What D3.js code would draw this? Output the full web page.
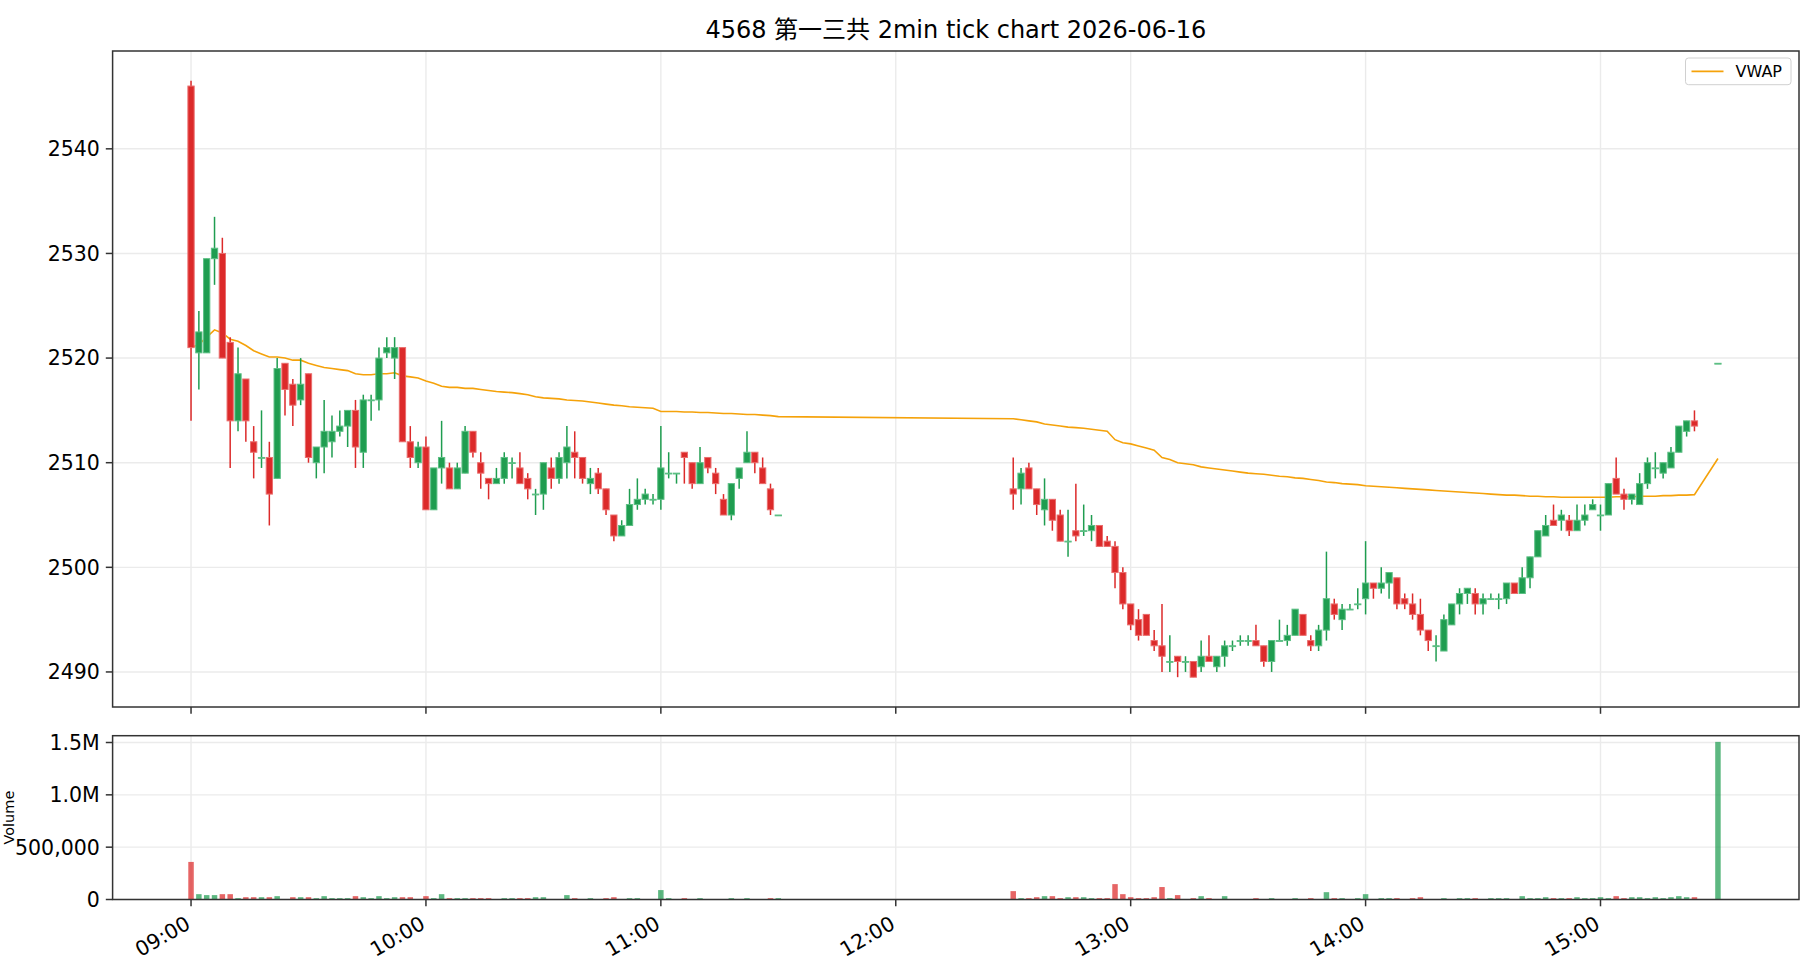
<!DOCTYPE html>
<html>
<head>
<meta charset="utf-8">
<script src="https://cdn.jsdelivr.net/npm/d3@7"></script>
<style>
body { margin: 0; background: #fff; }
text { font-family: "DejaVu Sans", "Noto Sans CJK JP", sans-serif; fill: #000; }
</style>
</head>
<body>
<svg id="chart" width="1820" height="980"></svg>
<script>
// 4568 Daiichi Sankyo, 2 minute bars
var tradeDate = '2026-06-16';

var times = [
	'09:00','09:02','09:04','09:06','09:08','09:10','09:12','09:14','09:16','09:18',
	'09:20','09:22','09:24','09:26','09:28','09:30','09:32','09:34','09:36','09:38',
	'09:40','09:42','09:44','09:46','09:48','09:50','09:52','09:54','09:56','09:58',
	'10:00','10:02','10:04','10:06','10:08','10:10','10:12','10:14','10:16','10:18',
	'10:20','10:22','10:24','10:26','10:28','10:30','10:32','10:34','10:36','10:38',
	'10:40','10:42','10:44','10:46','10:48','10:50','10:52','10:54','10:56','10:58',
	'11:00','11:02','11:04','11:06','11:08','11:10','11:12','11:14','11:16','11:18',
	'11:20','11:22','11:24','11:26','11:28','11:30',
	'12:30','12:32','12:34','12:36','12:38','12:40','12:42','12:44','12:46','12:48',
	'12:50','12:52','12:54','12:56','12:58','13:00','13:02','13:04','13:06','13:08',
	'13:10','13:12','13:14','13:16','13:18','13:20','13:22','13:24','13:26','13:28',
	'13:30','13:32','13:34','13:36','13:38','13:40','13:42','13:44','13:46','13:48',
	'13:50','13:52','13:54','13:56','13:58','14:00','14:02','14:04','14:06','14:08',
	'14:10','14:12','14:14','14:16','14:18','14:20','14:22','14:24','14:26','14:28',
	'14:30','14:32','14:34','14:36','14:38','14:40','14:42','14:44','14:46','14:48',
	'14:50','14:52','14:54','14:56','14:58','15:00','15:02','15:04','15:06','15:08',
	'15:10','15:12','15:14','15:16','15:18','15:20','15:22','15:24','15:30'
];

var opens = [
	2546,2520.5,2520.5,2529.5,2530,2521.5,2514,2518,2512,2510.5,
	2510.5,2508.5,2519.5,2517.5,2516,2518.5,2510,2511.5,2512,2513,
	2513.5,2515,2511,2516,2516,2520.5,2520,2521,2512,2510,
	2511.5,2505.5,2509.5,2509.5,2507.5,2509,2513,2510,2508.5,2508,
	2508.5,2510,2509.5,2508.5,2507,2507,2509.5,2508.5,2510,2511,
	2510.5,2508,2509,2507.5,2505,2503,2504,2506,2506.5,2506.5,
	2506.5,2509,2509,2511,2510,2508,2510.5,2509,2506.5,2505,
	2508.5,2510,2511,2509.5,2507.5,2505,
	2507.5,2507.5,2509.5,2507.5,2505.5,2506.5,2505,2502.5,2503.5,2503.5,
	2503.5,2504,2502.5,2502,2499.5,2496.5,2495,2495.5,2493,2492.5,
	2491,2491.5,2491,2491,2490.5,2491.5,2490.5,2491.5,2492.5,2493,
	2493,2493,2492.5,2491,2493,2493,2493.5,2495.5,2493,2492.5,
	2494,2496.5,2495,2496,2496.5,2497,2498.5,2498,2498.5,2499,
	2497,2496.5,2495.5,2494,2492.5,2492,2494.5,2496.5,2497.5,2497.5,
	2496.5,2497,2497,2497,2498.5,2497.5,2499,2501,2503,2504.5,
	2504.5,2504.5,2503.5,2504.5,2505.5,2505,2505,2508.5,2507,2506.5,
	2506,2508,2509.5,2509,2509.5,2511,2513,2514,2519.5
];

var highs = [
	2546.5,2524.5,2529.5,2533.5,2531.5,2522,2521,2518,2513.5,2515,
	2512,2520,2519.5,2518,2520,2518.5,2511.5,2516,2514.5,2515,
	2515,2516,2516.5,2516.5,2521,2522,2522,2521,2513.5,2512,
	2512.5,2509.5,2514,2510,2510,2513.5,2513,2511,2508.5,2509.5,
	2511,2510.5,2511,2509,2507.5,2510,2510.5,2511,2513.5,2513,
	2510.5,2509.5,2509.5,2507.5,2505,2504.5,2507.5,2508.5,2507.5,2507,
	2513.5,2511,2509,2511,2510,2511.5,2510.5,2509.5,2507,2508,
	2509.5,2513,2511,2510.5,2508,2505,
	2510.5,2509.5,2510,2507.5,2508.5,2506.5,2505.5,2505.5,2508,2506,
	2505,2504,2503,2502.5,2500,2496.5,2496,2495.5,2494,2496.5,
	2493.5,2491.5,2491.5,2491,2493,2493.5,2491.5,2493,2493,2493.5,
	2493.5,2494.5,2492.5,2493,2495,2494.5,2496,2495.5,2493.5,2494.5,
	2501.5,2497,2496.5,2496.5,2498,2502.5,2498.5,2500,2499.5,2499,
	2497.5,2497.5,2497,2494,2493.5,2495.5,2496.5,2498,2498,2498,
	2497.5,2497.5,2497.5,2498.5,2498.5,2500,2501,2503.5,2505,2506,
	2505.5,2505,2506,2506,2506.5,2506,2508,2510.5,2507.5,2507,
	2509,2510.5,2511,2510,2511.5,2513.5,2514,2515,2519.5
];

var lows = [
	2514,2517,2520.5,2527,2520,2509.5,2513,2512,2508.5,2509.5,
	2504,2508.5,2514.5,2513.5,2515.5,2510,2508.5,2509,2510.5,2512.5,
	2511.5,2509.5,2509.5,2514,2515,2520,2518,2512,2509.5,2509.5,
	2505.5,2505.5,2508,2507.5,2507.5,2509,2510.5,2507.5,2506.5,2508,
	2508,2508.5,2508,2506.5,2505,2505.5,2507.5,2508,2508.5,2508.5,
	2508,2507,2507,2505,2502.5,2503,2504,2505.5,2506,2506,
	2505.5,2508.5,2508,2508,2507.5,2508,2509,2507,2505,2504.5,
	2507.5,2510,2509,2508,2505,2505,
	2505.5,2506,2507.5,2505,2504,2503.5,2502.5,2501,2502.5,2503,
	2502.5,2502,2502,2498,2496,2494,2493,2493.5,2492,2490,
	2490,2489.5,2490,2489.5,2490,2491,2490,2490.5,2492,2492.5,
	2492.5,2492.5,2490.5,2490,2493,2492.5,2493.5,2493.5,2492,2492,
	2493,2495,2494,2496,2496,2495.5,2497,2497.5,2497,2496,
	2496,2495,2493.5,2492,2491,2492,2494.5,2495.5,2496.5,2495.5,
	2495.5,2497,2496,2496.5,2497.5,2497.5,2498,2501,2503,2504,
	2503.5,2503,2503.5,2504,2505.5,2503.5,2505,2507,2505.5,2506,
	2506,2507.5,2508.5,2508.5,2509.5,2511,2512.5,2513,2519.5
];

var closes = [
	2521,2522.5,2529.5,2530.5,2520,2514,2518.5,2514,2511,2510.5,
	2507,2519,2517,2515.5,2517.5,2510.5,2511.5,2513,2513,2513.5,
	2515,2511.5,2516,2516,2520,2521,2521,2512,2510.5,2511.5,
	2505.5,2509.5,2510.5,2507.5,2509.5,2513,2511,2509,2508,2508.5,
	2510.5,2510,2508,2507.5,2507,2510,2508.5,2510.5,2511.5,2510.5,
	2508.5,2508.5,2507.5,2505.5,2503,2504,2506,2506.5,2507,2506.5,
	2509.5,2509,2509,2510.5,2508,2510,2509.5,2508,2505,2508,
	2509.5,2511,2510,2508,2505.5,2505,
	2507,2509,2507.5,2506,2506.5,2504.5,2502.5,2502.5,2503,2503.5,
	2504,2502,2502,2499.5,2496.5,2494.5,2493.5,2493.5,2492.5,2491.5,
	2491,2491,2491,2489.5,2491.5,2491,2491.5,2492.5,2492.5,2493,
	2493,2492.5,2491,2493,2493,2493.5,2496,2493.5,2492.5,2494,
	2497,2495.5,2496,2496,2496.5,2498.5,2498,2498.5,2499.5,2496.5,
	2496.5,2495.5,2494,2493,2492.5,2495,2496.5,2497.5,2498,2496.5,
	2497,2497,2497,2498.5,2497.5,2499,2501,2503.5,2504,2504,
	2505,2503.5,2504.5,2505,2506,2505,2508,2507,2506.5,2507,
	2508,2510,2509.5,2510,2511,2513.5,2514,2513.5,2519.5
];

var volumes = [
	359000,51000,42000,42000,51000,51000,13000,22000,22000,22000,
	22000,32000,4000,22000,22000,22000,13000,32000,13000,13000,
	13000,32000,22000,13000,32000,13000,22000,22000,22000,4000,
	32000,13000,51000,13000,13000,13000,13000,13000,13000,4000,
	13000,13000,13000,13000,22000,22000,4000,4000,42000,13000,
	4000,13000,4000,13000,22000,4000,13000,13000,4000,4000,
	90000,13000,4000,13000,4000,13000,4000,4000,4000,13000,
	4000,13000,4000,4000,13000,13000,
	80000,13000,13000,22000,32000,32000,13000,22000,22000,22000,
	13000,13000,13000,147000,51000,22000,13000,13000,22000,119000,
	13000,42000,4000,13000,32000,13000,4000,32000,4000,4000,
	4000,13000,4000,13000,4000,4000,13000,4000,13000,4000,
	70000,13000,13000,4000,13000,51000,4000,13000,13000,13000,
	4000,13000,22000,4000,4000,13000,4000,13000,13000,13000,
	4000,13000,13000,13000,4000,32000,13000,13000,22000,13000,
	13000,13000,22000,13000,13000,22000,13000,32000,13000,22000,
	22000,13000,22000,13000,22000,32000,22000,22000,1506000
];

var vwap = [
	2521.0,2521.3,2522.0,2522.7,2522.4,2521.8,2521.6,2521.2,2520.7,2520.4,
	2520.1,2520.1,2520.0,2519.8,2519.8,2519.5,2519.3,2519.1,2519.0,2518.9,
	2518.8,2518.5,2518.4,2518.4,2518.5,2518.5,2518.6,2518.3,2518.2,2518.1,
	2517.8,2517.6,2517.3,2517.2,2517.2,2517.1,2517.1,2517.0,2516.9,2516.8,
	2516.75,2516.7,2516.6,2516.5,2516.3,2516.2,2516.15,2516.1,2516.0,2515.95,
	2515.9,2515.8,2515.7,2515.6,2515.5,2515.45,2515.35,2515.3,2515.25,2515.2,
	2514.9,2514.9,2514.9,2514.85,2514.85,2514.8,2514.8,2514.75,2514.7,2514.7,
	2514.65,2514.6,2514.6,2514.55,2514.5,2514.4,
	2514.2,2514.1,2514.0,2513.9,2513.7,2513.6,2513.5,2513.4,2513.35,2513.3,
	2513.2,2513.1,2513.0,2512.2,2511.9,2511.8,2511.6,2511.4,2511.2,2510.5,
	2510.3,2510.0,2509.9,2509.8,2509.6,2509.5,2509.4,2509.3,2509.2,2509.1,
	2509.0,2508.95,2508.9,2508.8,2508.7,2508.65,2508.55,2508.5,2508.4,2508.3,
	2508.15,2508.1,2508.0,2507.95,2507.9,2507.8,2507.75,2507.7,2507.65,2507.6,
	2507.55,2507.5,2507.45,2507.4,2507.35,2507.3,2507.25,2507.2,2507.15,2507.1,
	2507.05,2507.0,2506.95,2506.9,2506.9,2506.85,2506.8,2506.8,2506.75,2506.75,
	2506.7,2506.7,2506.7,2506.7,2506.7,2506.7,2506.7,2506.75,2506.75,2506.75,
	2506.8,2506.8,2506.8,2506.85,2506.85,2506.9,2506.9,2506.95,2510.4
];

var priceTicks = [2490, 2500, 2510, 2520, 2530, 2540];
var volumeTicks = [0, 500000, 1000000, 1500000];
var volumeTickLabels = ['0', '500,000', '1.0M', '1.5M'];
var hourTicks = ['09:00', '10:00', '11:00', '12:00', '13:00', '14:00', '15:00'];

var upColor = '#1f9d50',
	downColor = '#dc2a2a',
	vwapColor = '#f5a20a',
	gridColor = '#ebebeb',
	spineColor = '#333333';

var parseTime = d3.timeParse('%Y-%m-%d %H:%M');
var toDate = function (t) { return parseTime(tradeDate + ' ' + t); };

var bars = times.map(function (t, i) {
	return {
		date: toDate(t),
		open: opens[i], high: highs[i], low: lows[i], close: closes[i],
		volume: volumes[i], vwap: vwap[i],
		up: closes[i] >= opens[i]
	};
});

var svg = d3.select('#chart');

var plot = { left: 112.6, right: 1799 },
	main = { top: 51, bottom: 707 },
	vol  = { top: 735.7, bottom: 899.5 },
	tickLen = 6.8,
	tickFont = '20.5px';

var dayStart = toDate('09:00');
var x = d3.scaleTime()
	.domain([d3.timeSecond.offset(dayStart, -1202), d3.timeSecond.offset(dayStart, 24642)])
	.range([plot.left, plot.right]);

var y = d3.scaleLinear().domain([2486.65, 2549.35]).range([main.bottom, main.top]);
var yv = d3.scaleLinear().domain([0, 1565000]).range([vol.bottom, vol.top]);

var hourDates = hourTicks.map(toDate);
var slot = x(toDate('09:02')) - x(dayStart);

// title
svg.append('text')
	.attr('x', (plot.left + plot.right) / 2)
	.attr('y', 38)
	.attr('text-anchor', 'middle')
	.style('font-size', '24px')
	.text('4568 第一三共 2min tick chart 2026-06-16');

function drawPanel(top, bottom, yScale, yTicks, yLabels) {
	var g = svg.append('g');
	// grid
	g.selectAll('.vgrid').data(hourDates).enter().append('line')
		.attr('x1', function (d) { return x(d); })
		.attr('x2', function (d) { return x(d); })
		.attr('y1', top).attr('y2', bottom)
		.attr('stroke', gridColor).attr('stroke-width', 1.4);
	g.selectAll('.hgrid').data(yTicks).enter().append('line')
		.attr('x1', plot.left).attr('x2', plot.right)
		.attr('y1', function (d) { return yScale(d); })
		.attr('y2', function (d) { return yScale(d); })
		.attr('stroke', gridColor).attr('stroke-width', 1.4);
	// y ticks
	g.selectAll('.ytick').data(yTicks).enter().append('line')
		.attr('x1', plot.left - tickLen).attr('x2', plot.left)
		.attr('y1', function (d) { return yScale(d); })
		.attr('y2', function (d) { return yScale(d); })
		.attr('stroke', spineColor).attr('stroke-width', 1.5);
	g.selectAll('.ylab').data(yTicks).enter().append('text')
		.attr('x', plot.left - tickLen - 6)
		.attr('y', function (d) { return yScale(d); })
		.attr('dy', '0.36em')
		.attr('text-anchor', 'end')
		.style('font-size', tickFont)
		.text(function (d, i) { return yLabels ? yLabels[i] : d; });
	// x ticks
	g.selectAll('.xtick').data(hourDates).enter().append('line')
		.attr('x1', function (d) { return x(d); })
		.attr('x2', function (d) { return x(d); })
		.attr('y1', bottom).attr('y2', bottom + tickLen)
		.attr('stroke', spineColor).attr('stroke-width', 1.5);
	return g;
}

var mainG = drawPanel(main.top, main.bottom, y, priceTicks);
var volG = drawPanel(vol.top, vol.bottom, yv, volumeTicks, volumeTickLabels);

// VWAP line
mainG.append('path')
	.datum(bars)
	.attr('fill', 'none')
	.attr('stroke', vwapColor)
	.attr('stroke-width', 1.6)
	.attr('d', d3.line()
		.x(function (d) { return x(d.date); })
		.y(function (d) { return y(d.vwap); }));

// candles
var bodyW = slot * 0.8;
var candle = mainG.selectAll('.candle').data(bars).enter().append('g');
candle.append('line')
	.attr('x1', function (d) { return x(d.date); })
	.attr('x2', function (d) { return x(d.date); })
	.attr('y1', function (d) { return y(d.high); })
	.attr('y2', function (d) { return y(d.low); })
	.attr('stroke', function (d) { return d.up ? upColor : downColor; })
	.attr('stroke-width', 1.5);
candle.append('rect')
	.attr('x', function (d) { return x(d.date) - bodyW / 2; })
	.attr('width', bodyW)
	.attr('y', function (d) { return y(Math.max(d.open, d.close)); })
	.attr('height', function (d) { return Math.max(0.8, Math.abs(y(d.open) - y(d.close))); })
	.attr('fill', function (d) { return d.up ? upColor : downColor; })
	.attr('stroke', function (d) { return d.up ? '#5cbf84' : '#ea6d6d'; })
	.attr('stroke-width', 1);

// volume bars
var volW = slot * 0.7;
volG.selectAll('.vbar').data(bars).enter().append('rect')
	.attr('x', function (d) { return x(d.date) - volW / 2; })
	.attr('width', volW)
	.attr('y', function (d) { return yv(d.volume); })
	.attr('height', function (d) { return yv(0) - yv(d.volume); })
	.attr('fill', function (d) { return d.up ? upColor : downColor; })
	.attr('fill-opacity', 0.72);

// frames
[main, vol].forEach(function (p) {
	svg.append('rect')
		.attr('x', plot.left).attr('y', p.top)
		.attr('width', plot.right - plot.left).attr('height', p.bottom - p.top)
		.attr('fill', 'none').attr('stroke', spineColor).attr('stroke-width', 1.5);
});

// x tick labels (rotated)
var fmt = d3.timeFormat('%H:%M');
svg.selectAll('.xlab').data(hourDates).enter().append('text')
	.attr('transform', function (d) {
		return 'translate(' + (x(d) - 7) + ',' + (vol.bottom + tickLen + 8) + ') rotate(-30)';
	})
	.attr('text-anchor', 'end')
	.attr('dy', '0.75em')
	.style('font-size', tickFont)
	.text(function (d) { return fmt(d); });

// volume axis label, squeezed into the strip left of the tick labels
svg.append('text')
	.attr('transform', 'translate(14,' + ((vol.top + vol.bottom) / 2) + ') rotate(-90)')
	.attr('text-anchor', 'middle')
	.style('font-size', '14.5px')
	.text('Volume');

// legend
var leg = svg.append('g').attr('transform', 'translate(1685.5,58)');
leg.append('rect')
	.attr('width', 105.5).attr('height', 26.7)
	.attr('rx', 3)
	.attr('fill', '#fff').attr('fill-opacity', 0.8)
	.attr('stroke', '#d0d0d0');
leg.append('line')
	.attr('x1', 6).attr('x2', 38).attr('y1', 13.4).attr('y2', 13.4)
	.attr('stroke', vwapColor).attr('stroke-width', 1.6);
leg.append('text')
	.attr('x', 50).attr('y', 13.4).attr('dy', '0.35em')
	.style('font-size', '16px')
	.text('VWAP');
</script>
</body>
</html>
